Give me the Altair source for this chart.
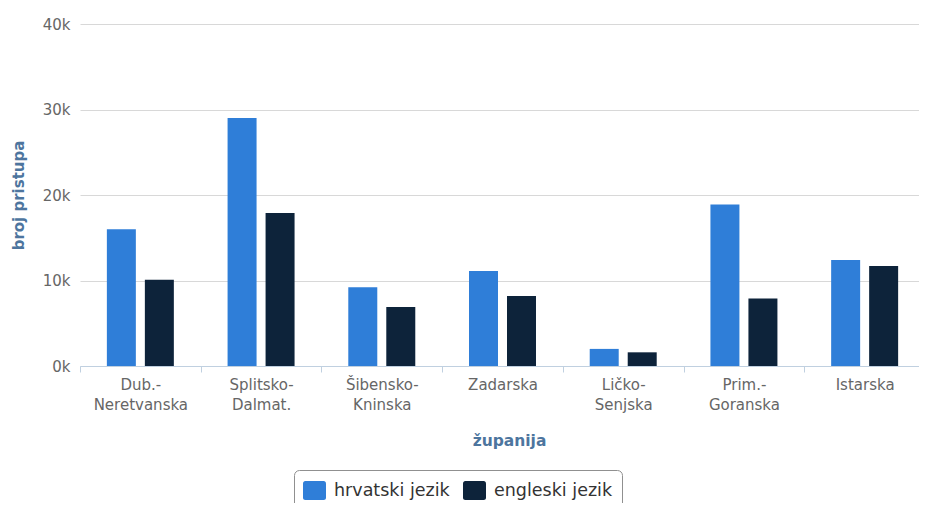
import altair as alt
import pandas as pd

categories = ["Dub.-Neretvanska", "Splitsko-Dalmat.", "Šibensko-Kninska", "Zadarska",
              "Ličko-Senjska", "Prim.-Goranska", "Istarska"]
series_names = ["hrvatski jezik", "engleski jezik"]
hrvatski = [16000, 29000, 9200, 11100, 2000, 18900, 12400]
engleski = [10100, 17900, 6900, 8200, 1600, 7900, 11700]
y_ticks = [0, 10000, 20000, 30000, 40000]
colors = ["#2f7ed8", "#0d233a"]

rows = []
for i, c in enumerate(categories):
    rows.append({"zupanija": c, "jezik": series_names[0], "broj": hrvatski[i]})
    rows.append({"zupanija": c, "jezik": series_names[1], "broj": engleski[i]})
df = pd.DataFrame(rows)

FONT = "DejaVu Sans"
rounded = ("M-0.8,-0.82 H0.8 A0.2,0.2 0 0 1 1,-0.62 V0.62 A0.2,0.2 0 0 1 0.8,0.82 "
           "H-0.8 A0.2,0.2 0 0 1 -1,0.62 V-0.62 A0.2,0.2 0 0 1 -0.8,-0.82 Z")

chart = alt.Chart(df).mark_bar().encode(
    x=alt.X("zupanija:N", sort=categories,
            scale=alt.Scale(paddingInner=0, paddingOuter=0),
            axis=alt.Axis(title="županija", labelAngle=0, tickBand="extent",
                          labelExpr="split(replace(datum.label, '-', '-|'), '|')",
                          labelFont=FONT, labelFontSize=15, labelColor="#666666",
                          labelLineHeight=20, labelPadding=5, labelBaseline="top",
                          domainColor="#c0d0e0", tickColor="#c0d0e0", tickSize=6,
                          titleFont=FONT, titleFontSize=15.5, titleFontWeight="bold",
                          titleColor="#4d759e", titleX=429, titleY=74,
                          titleBaseline="middle", titleAlign="center")),
    xOffset=alt.XOffset("jezik:N", sort=series_names,
                        scale=alt.Scale(paddingInner=0.237, paddingOuter=0.707)),
    y=alt.Y("broj:Q", scale=alt.Scale(domain=[0, 40000], nice=False),
            axis=alt.Axis(title="broj pristupa", values=y_ticks,
                          labelExpr="datum.value / 1000 + 'k'",
                          labelFont=FONT, labelFontSize=15, labelColor="#666666",
                          labelPadding=10, ticks=False, domain=False,
                          gridColor="#d8d8d8", gridWidth=1,
                          titleFont=FONT, titleFontSize=15, titleFontWeight="bold",
                          titleColor="#4d759e", titleX=-62, titleY=171,
                          titleAngle=-90, titleBaseline="middle", titleAlign="center")),
    color=alt.Color("jezik:N", sort=series_names,
                    scale=alt.Scale(domain=series_names, range=colors),
                    legend=alt.Legend(title=None, orient="none", legendX=214, legendY=446,
                                      direction="horizontal", strokeColor="#909090",
                                      cornerRadius=5, padding=9,
                                      labelFont=FONT, labelFontSize=17.5, labelColor="#333333",
                                      symbolType=rounded, symbolSize=529,
                                      symbolStrokeWidth=0, symbolOpacity=1,
                                      labelOffset=8, columnPadding=12)),
).properties(
    width=845, height=342,
    autosize=alt.AutoSizeParams(type="none"),
    padding={"left": 72, "top": 16, "right": -6, "bottom": 137},
).configure_view(stroke=None).configure_axis(labelFont=FONT)

chart.save("out.html", embed_options={"renderer": "svg", "actions": False})
